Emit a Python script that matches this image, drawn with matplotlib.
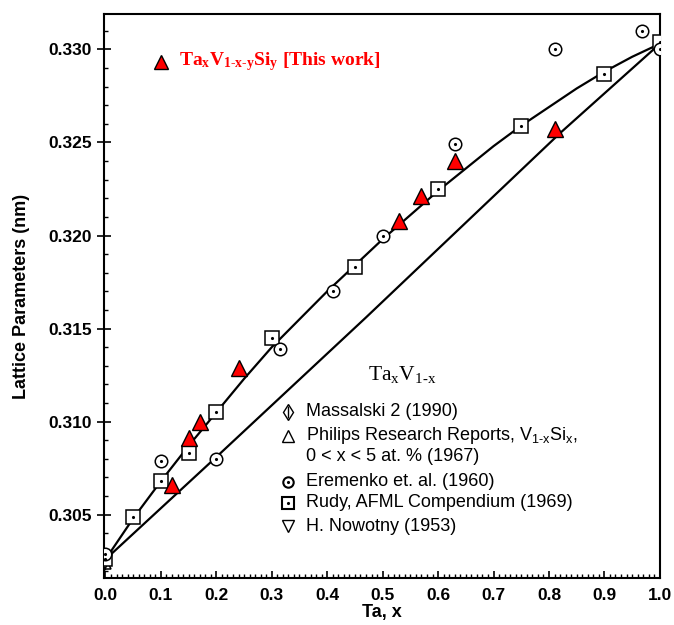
import numpy as np
import matplotlib
matplotlib.use("Agg")
from matplotlib import pyplot as plt
from matplotlib.ticker import MultipleLocator, FormatStrFormatter

# du lieu doc tu hinh
this_x = [0.12, 0.15, 0.17, 0.24, 0.53, 0.57, 0.63, 0.81]
this_y = [0.3066, 0.3091, 0.3100, 0.3129, 0.3208, 0.3221, 0.3240, 0.3257]

rudy_x = [0.0, 0.05, 0.10, 0.15, 0.20, 0.30, 0.45, 0.60, 0.75, 0.90, 1.0]
rudy_y = [0.3026, 0.3049, 0.3068, 0.3083, 0.3105, 0.3145, 0.3183, 0.3225, 0.3259, 0.3287, 0.3304]

erem_x = [0.0, 0.10, 0.20, 0.315, 0.41, 0.50, 0.63, 0.81, 0.967, 1.0]
erem_y = [0.3029, 0.3079, 0.3080, 0.3139, 0.3170, 0.3200, 0.3249, 0.3300, 0.3310, 0.3300]

mass_x = [0.0, 1.0]
mass_y = [0.3025, 0.3302]
phil_x = [0.0]
phil_y = [0.3024]
nowo_x = [0.0, 1.0]
nowo_y = [0.3024, 0.3301]

# hai duong cong
upper_x = [0.0, 0.05, 0.1, 0.15, 0.2, 0.25, 0.3, 0.35, 0.4, 0.45, 0.5,
           0.55, 0.6, 0.65, 0.7, 0.75, 0.8, 0.85, 0.9, 0.95, 1.0]
upper_y = [0.3026, 0.3048, 0.3068, 0.3087, 0.3105, 0.3123, 0.3140, 0.3155, 0.3170, 0.3184, 0.3198,
           0.3211, 0.3224, 0.3236, 0.3248, 0.3259, 0.3269, 0.3279, 0.3288, 0.3296, 0.3303]
lower_x = [0.0, 0.2, 0.47, 0.82, 1.0]
lower_y = [0.3026, 0.3081, 0.3156, 0.3255, 0.3303]

legend_labels = ["Massalski 2 (1990)",
                 "Philips Research Reports, V$_{\\mathregular{1\u2010x}}$Si$_{\\mathregular{x}}$,",
                 "0 < x < 5 at. % (1967)",
                 "Eremenko et. al. (1960)",
                 "Rudy, AFML Compendium (1969)",
                 "H. Nowotny (1953)"]

plt.rcParams['font.family'] = ['Liberation Sans', 'DejaVu Sans']

fig = plt.figure(figsize=(6.74, 6.25), dpi=100)
ax = fig.add_axes([0.154, 0.0752, 0.825, 0.9024])

ax.plot(upper_x, upper_y, color='k', lw=1.6, zorder=2)
ax.plot(lower_x, lower_y, color='k', lw=1.6, zorder=2)

open_kw = dict(ls='none', mfc='white', mec='k', mew=1.1, zorder=3)
ax.plot(mass_x, mass_y, marker='d', ms=9, **open_kw)
ax.plot(mass_x, mass_y, marker='|', ms=9, ls='none', mec='k', mew=1.0, zorder=3)
ax.plot(phil_x, phil_y, marker='^', ms=9, **open_kw)
ax.plot(nowo_x, nowo_y, marker='v', ms=9, **open_kw)
ax.plot(rudy_x, rudy_y, marker='s', ms=10, **open_kw)
ax.plot(rudy_x, rudy_y, marker='.', ms=2.5, ls='none', color='k', zorder=4)
ax.plot(erem_x, erem_y, marker='o', ms=9, **open_kw)
ax.plot(erem_x, erem_y, marker='.', ms=2.5, ls='none', color='k', zorder=4)
ax.plot(this_x, this_y, marker='^', ms=12, ls='none', mfc='red', mec='k', mew=1.0, zorder=5)

ax.set_xlim(-0.003, 1.0)
ax.set_ylim(0.3016, 0.3319)
ax.xaxis.set_major_locator(MultipleLocator(0.1))
ax.xaxis.set_minor_locator(MultipleLocator(0.01))
ax.yaxis.set_major_locator(MultipleLocator(0.005))
ax.yaxis.set_minor_locator(MultipleLocator(0.001))
ax.xaxis.set_major_formatter(FormatStrFormatter('%.1f'))
ax.yaxis.set_major_formatter(FormatStrFormatter('%.3f'))
ax.tick_params(axis='x', which='major', direction='in', length=5, width=1.2, labelsize=12.5, pad=7)
ax.tick_params(axis='x', which='minor', direction='in', length=3, width=1.0)
ax.tick_params(axis='y', which='major', direction='inout', length=10, width=1.2, labelsize=12.5)
ax.tick_params(axis='y', which='minor', direction='in', length=3, width=1.0)
for lab in ax.get_xticklabels() + ax.get_yticklabels():
    lab.set_fontweight('bold')
for s in ax.spines.values():
    s.set_linewidth(1.5)

ax.set_xlabel('Ta, x', fontsize=13, fontweight='bold', labelpad=1)
ax.set_ylabel('Lattice Parameters (nm)', fontsize=13, fontweight='bold', labelpad=13)

# chu thich mau do
ax.plot([0.1025], [0.915], marker='^', ms=10, mfc='red', mec='k', mew=1.0,
        transform=ax.transAxes, clip_on=False)
ax.text(0.135, 0.915, '$\\mathregular{Ta_xV_{1\u2010x\u2010y}Si_y}$ [This work]',
        transform=ax.transAxes, color='red', fontsize=14, fontweight='bold',
        family=['Liberation Serif', 'DejaVu Serif'], va='center', ha='left')

# chu thich giua
ax.text(0.475, 0.36, '$\\mathregular{Ta_xV_{1\u2010x}}$', transform=ax.transAxes,
        fontsize=15.5, family=['Liberation Serif', 'DejaVu Serif'], va='center', ha='left')

rows_y = [0.295, 0.252, 0.215, 0.171, 0.133, 0.092]
mk_x = 0.331
ax.plot([mk_x], [rows_y[0]], marker='d', ms=8, mfc='white', mec='k', mew=1.0, transform=ax.transAxes)
ax.plot([mk_x], [rows_y[0]], marker='|', ms=8, mec='k', mew=1.0, transform=ax.transAxes)
ax.plot([mk_x], [rows_y[1]], marker='^', ms=8, mfc='white', mec='k', mew=1.0, transform=ax.transAxes)
ax.plot([mk_x], [rows_y[3]], marker='o', ms=7.5, mfc='white', mec='k', mew=1.5, transform=ax.transAxes)
ax.plot([mk_x], [rows_y[3]], marker='.', ms=2.5, color='k', transform=ax.transAxes)
ax.plot([mk_x], [rows_y[4]], marker='s', ms=8, mfc='white', mec='k', mew=1.5, transform=ax.transAxes)
ax.plot([mk_x], [rows_y[4]], marker='.', ms=2.5, color='k', transform=ax.transAxes)
ax.plot([mk_x], [rows_y[5]], marker='v', ms=9, mfc='white', mec='k', mew=1.0, transform=ax.transAxes)
for lab, yy in zip(legend_labels, rows_y):
    ax.text(0.363, yy, lab, transform=ax.transAxes, fontsize=13, va='center', ha='left')

fig.savefig('out.png', dpi=100)
